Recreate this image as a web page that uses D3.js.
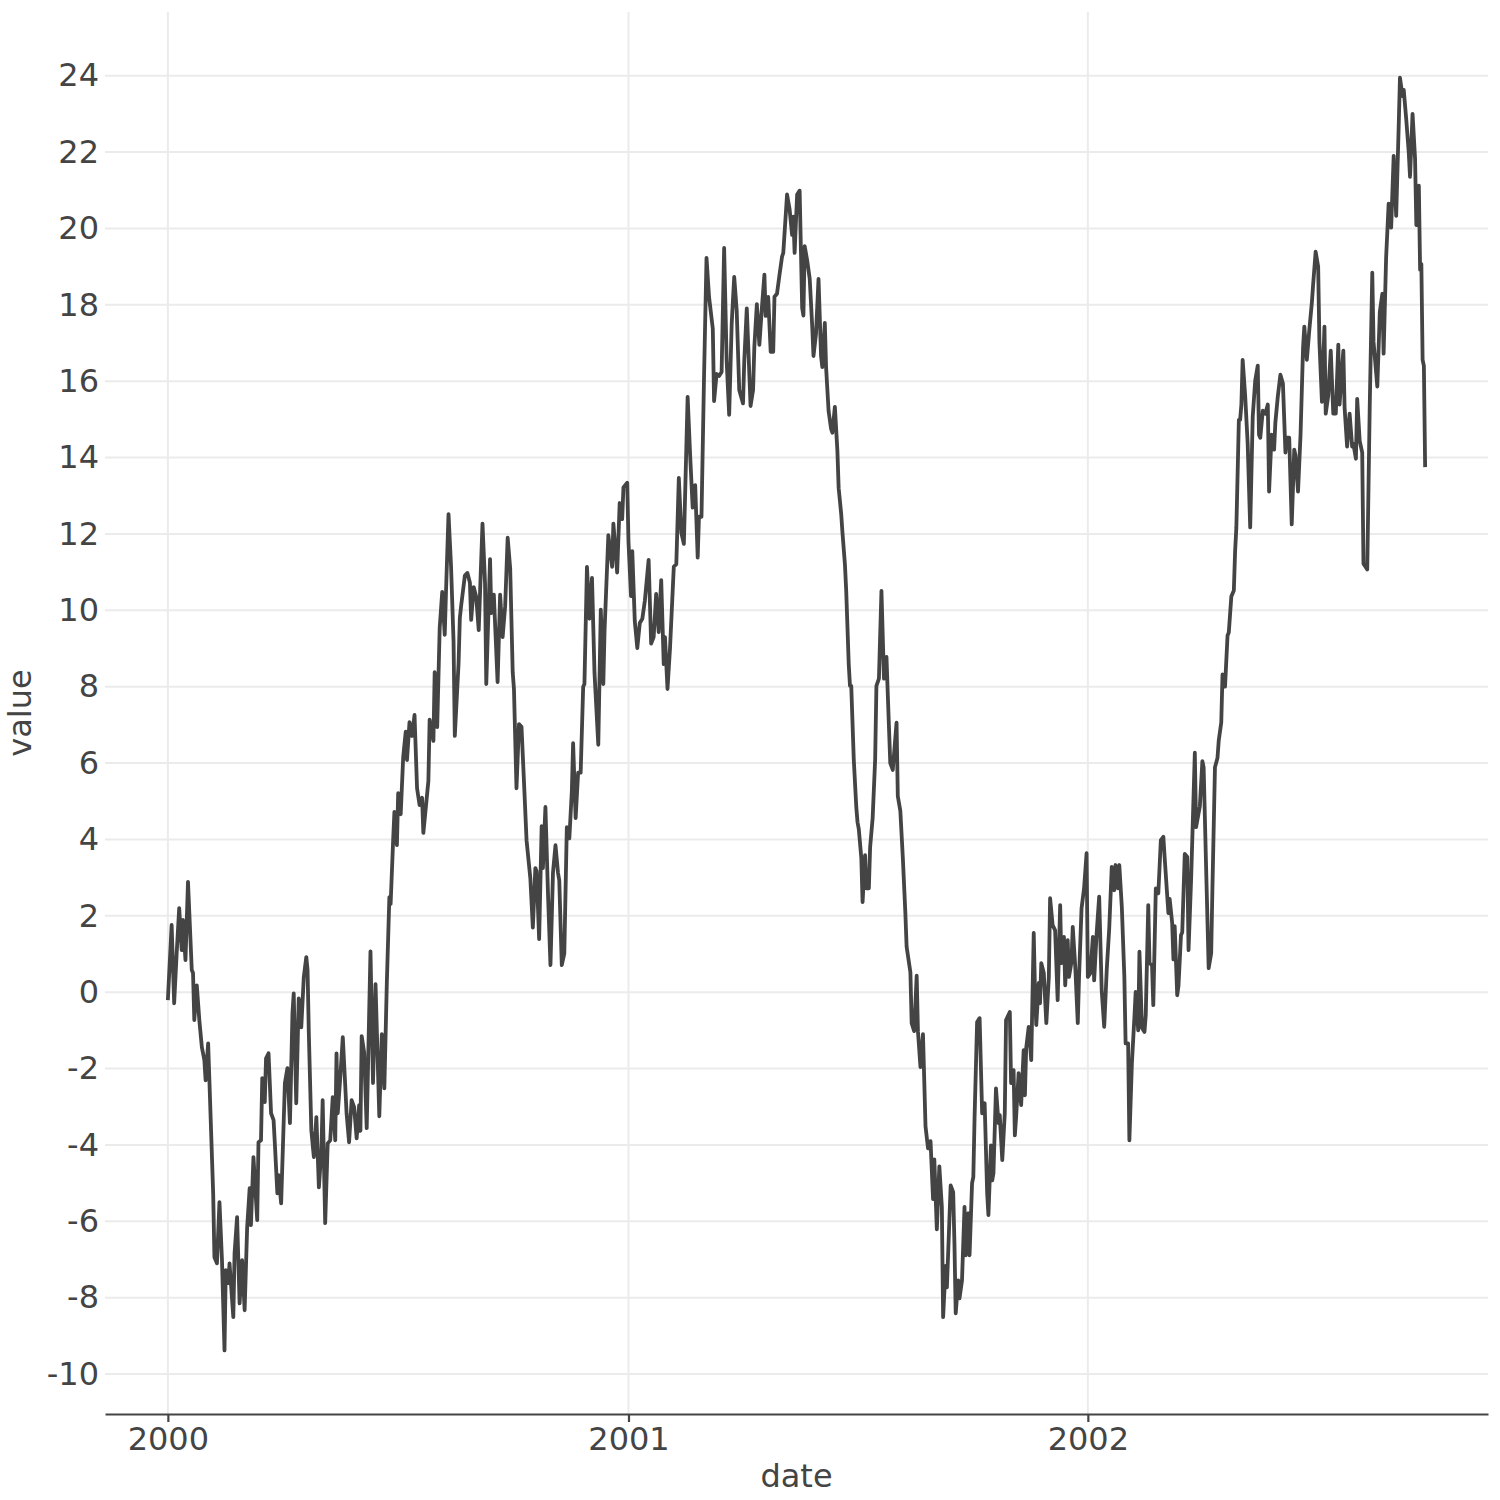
<!DOCTYPE html>
<html>
<head>
<meta charset="utf-8">
<script src="https://cdn.jsdelivr.net/npm/d3@7.9.0/dist/d3.min.js"></script>
<style>
  body { margin: 0; background: #fff; }
  text { font-family: "DejaVu Sans", sans-serif; }
</style>
</head>
<body>
<svg id="chart" width="1500" height="1500"></svg>
<script>
// one reading every couple of days, counted from 2000-01-01
const startDate = new Date(2000, 0, 1);

const days = [
  0, 3, 5, 7, 9, 11, 12, 14, 16, 19,
  20, 21, 23, 25, 27, 29, 30, 32, 33, 36,
  37, 39, 41, 43, 45, 46, 48, 49, 52, 53,
  55, 57, 59, 61, 63, 65, 66, 68, 71, 72,
  74, 75, 77, 78, 80, 82, 84, 85, 87, 88,
  90, 93, 95, 97, 99, 100, 102, 104, 106, 108,
  110, 111, 112, 114, 116, 118, 120, 122, 123, 125,
  127, 129, 131, 133, 134, 135, 137, 139, 141, 142,
  144, 146, 148, 150, 152, 153, 154, 156, 158, 161,
  163, 165, 168, 170, 172, 174, 176, 177, 179, 180,
  182, 183, 185, 187, 189, 190, 192, 194, 196, 198,
  200, 202, 203, 205, 207, 208, 211, 212, 214, 216,
  218, 220, 221, 223, 225, 227, 228, 231, 232, 233,
  236, 238, 240, 241, 243, 245, 247, 250, 252, 253,
  256, 257, 259, 262, 264, 266, 268, 270, 272, 274,
  275, 277, 279, 281, 283, 285, 288, 290, 292, 293,
  295, 297, 298, 300, 302, 304, 306, 308, 310, 311,
  313, 315, 317, 319, 321, 322, 324, 326, 328, 330,
  331, 333, 335, 337, 339, 342, 344, 346, 347, 350,
  353, 354, 357, 359, 361, 362, 365, 366, 368, 369,
  371, 373, 375, 377, 379, 382, 384, 386, 388, 390,
  392, 394, 395, 397, 399, 402, 404, 406, 408, 410,
  413, 415, 417, 419, 421, 422, 424, 426, 428, 430,
  433, 434, 436, 438, 440, 442, 444, 446, 448, 450,
  452, 454, 457, 458, 460, 463, 465, 466, 468, 470,
  472, 474, 475, 477, 479, 481, 482, 484, 486, 488,
  489, 492, 494, 496, 497, 498, 500, 502, 504, 505,
  506, 508, 510, 512, 513, 515, 517, 519, 520, 522,
  523, 525, 527, 528, 530, 532, 533, 535, 536, 538,
  539, 541, 542, 543, 545, 547, 548, 549, 551, 552,
  554, 555, 557, 558, 560, 562, 563, 565, 567, 569,
  571, 572, 574, 576, 579, 580, 582, 584, 586, 587,
  590, 591, 593, 595, 596, 598, 600, 602, 604, 606,
  608, 609, 611, 613, 615, 616, 618, 619, 622, 624,
  625, 626, 628, 629, 631, 633, 634, 636, 637, 639,
  640, 641, 643, 645, 647, 649, 651, 652, 654, 655,
  656, 658, 660, 661, 663, 665, 666, 669, 670, 672,
  673, 674, 676, 678, 680, 681, 682, 684, 686, 688,
  689, 690, 692, 693, 694, 696, 698, 700, 701, 703,
  705, 707, 709, 710, 712, 713, 715, 716, 718, 719,
  721, 723, 724, 726, 728, 730, 731, 733, 735, 736,
  738, 740, 742, 744, 746, 748, 750, 752, 753, 755,
  756, 758, 760, 761, 763, 764, 766, 768, 769, 771,
  772, 774, 776, 777, 779, 780, 782, 783, 785, 787,
  789, 791, 792, 795, 796, 798, 799, 800, 802, 803,
  805, 806, 808, 810, 811, 813, 814, 816, 817, 820,
  822, 823, 825, 827, 829, 830, 832, 834, 835, 837,
  838, 840, 842, 843, 845, 847, 848, 849, 851, 852,
  853, 854, 856, 858, 860, 862, 864, 866, 867, 868,
  870, 872, 874, 875, 877, 879, 880, 882, 884, 886,
  888, 889, 891, 893, 895, 896, 898, 900, 902, 903,
  905, 907, 909, 910, 912, 914, 915, 917, 919, 920,
  922, 924, 926, 928, 930, 931, 934, 935, 937, 939,
  941, 942, 944, 945, 947, 949, 950, 953, 955, 957,
  958, 961, 963, 965, 966, 968, 970, 972, 974, 976,
  978, 979, 981, 982, 984, 986, 987, 989, 991, 992,
  994, 995, 996, 997, 998, 999
];

const values = [
  -0.21, 1.76, -0.29, 1.02, 2.20, 1.10, 1.89, 0.84, 2.89, 0.58,
  0.50, -0.73, 0.18, -0.73, -1.44, -1.78, -2.31, -1.34, -2.31, -5.27,
  -6.94, -7.10, -5.50, -7.02, -9.38, -7.28, -7.62, -7.10, -8.51, -6.84,
  -5.89, -8.15, -7.02, -8.33, -6.16, -5.13, -6.10, -4.32, -5.97, -3.93,
  -3.88, -2.25, -2.88, -1.73, -1.60, -3.17, -3.35, -3.96, -5.27, -4.79,
  -5.53, -2.38, -1.99, -3.43, -0.55, -0.03, -2.91, -0.16, -0.92, 0.39,
  0.92, 0.58, -1.07, -3.62, -4.32, -3.27, -5.11, -4.14, -2.83, -6.05,
  -3.96, -3.88, -2.75, -3.88, -1.60, -3.17, -2.23, -1.18, -2.49, -3.17,
  -3.93, -2.83, -3.01, -3.83, -2.96, -3.63, -1.15, -1.59, -3.56, 1.07,
  -2.38, 0.21, -3.25, -1.10, -2.52, 0.26, 2.49, 2.31, 3.98, 4.72,
  3.85, 5.21, 4.66, 6.16, 6.82, 6.08, 7.07, 6.71, 7.26, 5.34,
  4.90, 5.09, 4.17, 4.85, 5.53, 7.14, 6.58, 8.38, 6.94, 9.55,
  10.48, 9.36, 10.48, 12.52, 11.16, 9.18, 6.71, 8.62, 9.80, 10.11,
  10.91, 10.98, 10.72, 9.75, 10.61, 10.35, 9.48, 12.27, 10.72, 8.07,
  11.34, 9.93, 10.41, 8.12, 10.41, 9.30, 10.11, 11.90, 11.10, 8.38,
  7.94, 5.34, 7.02, 6.95, 5.48, 3.98, 2.99, 1.69, 3.25, 3.17,
  1.39, 4.35, 3.25, 4.85, 2.62, 0.71, 3.12, 3.85, 3.12, 2.93,
  0.71, 1.01, 4.32, 4.03, 5.27, 6.52, 4.56, 5.75, 5.75, 8.00,
  8.07, 11.14, 9.78, 10.85, 8.36, 6.48, 10.02, 8.07, 9.48, 11.97,
  11.14, 12.27, 10.99, 12.81, 12.39, 13.22, 13.34, 11.80, 10.37, 11.55,
  9.72, 9.01, 9.67, 9.78, 10.25, 11.32, 9.13, 9.30, 10.43, 9.43,
  10.79, 8.59, 9.30, 7.94, 9.01, 11.14, 11.21, 13.47, 12.03, 11.74,
  15.59, 14.05, 12.69, 13.28, 11.38, 12.45, 12.45, 16.07, 19.23, 18.21,
  17.37, 15.48, 16.19, 16.14, 16.24, 19.49, 16.54, 15.12, 17.50, 18.73,
  17.84, 15.77, 15.42, 16.54, 17.91, 15.35, 15.77, 16.90, 18.02, 16.95,
  17.92, 18.79, 17.71, 18.21, 16.77, 16.77, 18.21, 18.29, 18.79, 19.26,
  19.36, 20.89, 20.51, 19.83, 20.31, 19.36, 20.89, 20.99, 17.92, 17.72,
  19.54, 19.16, 18.68, 17.43, 16.66, 17.24, 18.68, 16.66, 16.37, 17.53,
  16.37, 15.22, 14.75, 14.65, 15.33, 14.17, 13.20, 12.53, 12.05, 11.19,
  10.51, 8.59, 8.02, 8.02, 6.10, 4.85, 4.45, 4.27, 3.51, 2.36,
  3.59, 2.72, 2.72, 3.80, 4.56, 6.10, 8.02, 8.21, 10.51, 8.21,
  8.78, 7.83, 6.00, 5.82, 7.06, 5.13, 4.75, 3.51, 2.07, 1.19,
  0.52, -0.81, -1.02, 0.43, -1.02, -1.96, -1.10, -3.51, -4.09, -3.90,
  -5.42, -4.38, -6.21, -4.56, -5.63, -8.51, -7.17, -7.73, -5.06, -5.24,
  -6.58, -8.41, -7.55, -8.02, -7.55, -5.62, -6.89, -5.79, -6.89, -5.00,
  -4.84, -3.27, -0.78, -0.68, -3.17, -2.91, -5.27, -5.84, -4.01, -4.93,
  -4.74, -2.52, -3.43, -3.22, -4.40, -3.17, -0.73, -0.52, -2.38, -2.04,
  -3.75, -3.27, -2.12, -2.96, -1.52, -2.70, -1.47, -0.91, -1.78, 1.55,
  0.05, -0.86, 0.24, -0.29, 0.76, 0.50, -0.81, 0.40, 2.46, 1.76,
  1.62, -0.21, 2.28, 0.76, 1.45, 0.18, 1.36, 0.40, 0.79, 1.71,
  0.66, -0.81, 0.40, 2.20, 2.72, 3.64, 0.40, 0.50, 1.45, 0.31,
  1.55, 2.50, 0.05, -0.91, 0.58, 1.68, 3.28, 2.67, 3.33, 2.72,
  3.33, 2.23, 0.40, -1.34, -1.34, -3.88, -1.86, -0.65, 0.01, -1.00,
  1.06, -0.94, -1.04, -0.60, 2.28, 0.76, 0.71, -0.34, 2.72, 2.59,
  3.98, 4.07, 3.54, 2.07, 2.44, 1.81, 0.86, 1.73, -0.08, 0.16,
  1.49, 1.57, 3.62, 3.54, 1.10, 2.91, 4.01, 6.27, 4.32, 4.87,
  6.05, 5.89, 3.22, 0.63, 1.02, 2.75, 5.89, 6.13, 6.59, 7.06,
  8.32, 8.00, 9.34, 9.42, 10.36, 10.52, 11.54, 12.17, 14.99, 14.99,
  15.39, 16.56, 15.62, 14.36, 12.17, 15.07, 16.02, 16.41, 14.60, 14.52,
  15.23, 15.15, 15.39, 13.11, 14.60, 14.21, 14.92, 15.62, 16.17, 15.94,
  14.13, 14.52, 14.52, 12.25, 14.21, 14.05, 13.11, 14.60, 16.88, 17.43,
  16.56, 17.35, 18.06, 18.53, 19.39, 19.00, 17.03, 15.46, 17.43, 15.15,
  15.62, 16.80, 15.15, 15.15, 16.96, 15.39, 16.80, 15.31, 14.29, 15.15,
  14.29, 14.36, 13.97, 15.54, 14.44, 14.13, 11.22, 11.07, 15.39, 18.84,
  17.03, 15.86, 17.82, 18.29, 16.72, 19.24, 20.65, 20.02, 21.90, 20.33,
  22.69, 23.95, 23.47, 23.63, 22.85, 21.98, 21.35, 23.00, 21.82, 20.09,
  21.12, 18.92, 19.07, 16.56, 16.40, 13.75
];

const yearTicks = [2000, 2001, 2002];
const valueTicks = [-10, -8, -6, -4, -2, 0, 2, 4, 6, 8, 10, 12, 14, 16, 18, 20, 22, 24];

const width = 1500, height = 1500;
const margin = { top: 14, right: 12, bottom: 86, left: 105 };
const textColor = '#444';
const fontSize = 32;

const data = days.map((d, i) => ({ date: d3.timeDay.offset(startDate, d), value: values[i] }));

// ggplot-style 5% padding on both axes
const expand = ([lo, hi]) => { const pad = (hi - lo) * 0.05; return [lo - pad, hi + pad]; };

const [t0, t1] = expand(d3.extent(data, d => +d.date));
const x = d3.scaleTime()
  .domain([new Date(t0), new Date(t1)])
  .range([margin.left, width - margin.right]);

const y = d3.scaleLinear()
  .domain(expand(d3.extent(data, d => d.value)))
  .range([height - margin.bottom, margin.top]);

const svg = d3.select('#chart');
const yearDates = yearTicks.map(yr => new Date(yr, 0, 1));

// grid
svg.append('g')
  .selectAll('line')
  .data(valueTicks)
  .join('line')
  .attr('x1', margin.left).attr('x2', width - margin.right)
  .attr('y1', d => y(d)).attr('y2', d => y(d))
  .attr('stroke', '#ebebeb').attr('stroke-width', 2);

svg.append('g')
  .selectAll('line')
  .data(yearDates)
  .join('line')
  .attr('x1', d => x(d)).attr('x2', d => x(d))
  .attr('y1', 12).attr('y2', height - margin.bottom)
  .attr('stroke', '#ebebeb').attr('stroke-width', 2);

// series
const line = d3.line()
  .x(d => x(d.date))
  .y(d => y(d.value));

svg.append('path')
  .datum(data)
  .attr('d', line)
  .attr('fill', 'none')
  .attr('stroke', '#444444')
  .attr('stroke-width', 3.8)
  .attr('stroke-linejoin', 'round');

// axes
const xAxis = svg.append('g')
  .attr('transform', `translate(0,${height - margin.bottom})`)
  .call(d3.axisBottom(x).tickValues(yearDates).tickFormat(d3.timeFormat('%Y')).tickSize(8).tickPadding(5).tickSizeOuter(0));

xAxis.select('.domain').attr('stroke', textColor).attr('stroke-width', 2.2);
xAxis.selectAll('.tick line').attr('stroke', textColor).attr('stroke-width', 2.2);
xAxis.selectAll('.tick text')
  .attr('fill', textColor)
  .style('font-size', `${fontSize}px`)
  .style('font-family', '"DejaVu Sans", sans-serif');

const yAxis = svg.append('g')
  .attr('transform', `translate(${margin.left},0)`)
  .call(d3.axisLeft(y).tickValues(valueTicks).tickFormat(d => String(d)).tickSize(0).tickPadding(6));

yAxis.select('.domain').remove();
yAxis.selectAll('.tick text')
  .attr('fill', textColor)
  .style('font-size', `${fontSize}px`)
  .style('font-family', '"DejaVu Sans", sans-serif');

// axis titles
svg.append('text')
  .attr('x', (margin.left + width - margin.right) / 2)
  .attr('y', 1487)
  .attr('text-anchor', 'middle')
  .attr('fill', textColor)
  .style('font-size', `${fontSize}px`)
  .text('date');

svg.append('text')
  .attr('transform', `translate(31,${(12 + height - margin.bottom) / 2}) rotate(-90)`)
  .attr('text-anchor', 'middle')
  .attr('fill', textColor)
  .style('font-size', `${fontSize}px`)
  .text('value');
</script>
</body>
</html>
